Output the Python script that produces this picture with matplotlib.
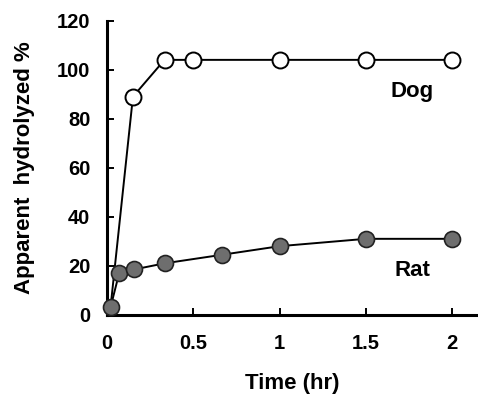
import matplotlib.pyplot as plt

plt.rcParams['font.family'] = ['Liberation Sans', 'DejaVu Sans']
plt.rcParams['font.weight'] = 'bold'

# time points (hr) and apparent hydrolysis (%)
dog_time = [0.02, 0.15, 0.333, 0.5, 1.0, 1.5, 2.0]
dog_pct = [3, 89, 104, 104, 104, 104, 104]

rat_time = [0.02, 0.07, 0.156, 0.333, 0.667, 1.0, 1.5, 2.0]
rat_pct = [3, 17, 18.5, 21, 24.5, 28, 31, 31]

x_ticks = [0, 0.5, 1, 1.5, 2]
x_tick_labels = ["0", "0.5", "1", "1.5", "2"]
y_ticks = [0, 20, 40, 60, 80, 100, 120]

fig = plt.figure(figsize=(4.78, 3.97), dpi=100)
ax = fig.add_axes([0.224, 0.207, 0.776, 0.741])

ax.plot(dog_time, dog_pct, color="black", lw=1.4, zorder=2)
ax.plot(dog_time[1:], dog_pct[1:], "o", ms=11.5, mfc="white", mec="black",
        mew=1.4, zorder=3)
ax.plot(rat_time, rat_pct, "-o", color="black", lw=1.4, ms=11.5,
        mfc="#6e6e6e", mec="#222222", mew=1.2, zorder=4, clip_on=False)

ax.text(1.77, 91, "Dog", fontsize=16, fontweight="bold", ha="center", va="center")
ax.text(1.77, 18, "Rat", fontsize=16, fontweight="bold", ha="center", va="center")

ax.set_xlim(0, 2.15)
ax.set_ylim(0, 120)
ax.set_xticks(x_ticks)
ax.set_xticklabels(x_tick_labels)
ax.set_yticks(y_ticks)

for side in ("top", "right"):
    ax.spines[side].set_visible(False)
for side in ("left", "bottom"):
    ax.spines[side].set_linewidth(2.2)

ax.tick_params(direction="in", length=5, width=1.4, labelsize=14.5, pad=12)
ax.tick_params(axis="x", pad=14)

ax.set_xlabel("Time (hr)", fontsize=16, fontweight="bold", labelpad=14)
ax.set_ylabel("Apparent  hydrolyzed %", fontsize=16, fontweight="bold", labelpad=16)

fig.savefig("out.png", dpi=100)
